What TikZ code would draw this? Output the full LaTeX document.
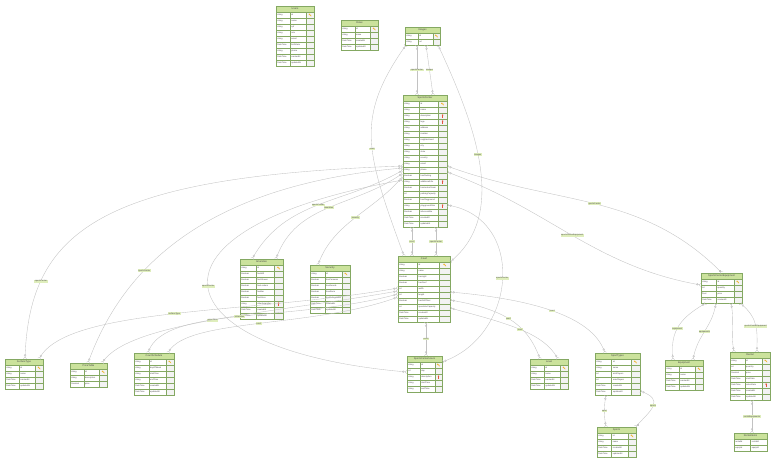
\documentclass[tikz,border=0pt]{standalone}
\usepackage{fontspec}
\setmainfont{Liberation Sans}
\usepackage{tikz}
\usetikzlibrary{arrows.meta}

\definecolor{headfill}{HTML}{CBE29C}
\definecolor{tabline}{HTML}{84A862}
\definecolor{relline}{HTML}{C2C2C2}
\definecolor{labelfill}{HTML}{DFEEBC}
\definecolor{keygold}{HTML}{F0B429}
\definecolor{keyred}{HTML}{E5533D}
\definecolor{keycell}{HTML}{F3F3F3}
\definecolor{celltext}{HTML}{4A4A4A}

\tikzset{
  entbox/.style={inner sep=0pt, outer sep=0pt, draw=none},
  enthead/.style={draw=tabline, fill=headfill, line width=0.45pt},
  entcell/.style={draw=tabline, fill=white, line width=0.35pt},
  entborder/.style={draw=tabline, line width=0.7pt},
  celltxt/.style={font=\fontsize{2.1}{2.4}\selectfont, text=celltext, inner sep=0pt, anchor=west},
  headtxt/.style={font=\fontsize{2.5}{2.9}\selectfont, text=celltext, inner sep=0pt},
  rel/.style={draw=relline, line width=0.35pt,
    {Straight Barb[reversed,length=1.8pt,width=3.2pt] Circle[open,length=2.2pt,sep=0.4pt]}-{Circle[open,length=2.2pt,sep=0.4pt] Straight Barb[reversed,length=1.8pt,width=3.2pt]}},
  rellbl/.style={fill=labelfill, font=\fontsize{2.1}{2.4}\selectfont, text=celltext, inner sep=0.5pt},
  pkmark/.pic={
    \fill[keygold] (-0.8,0.7) circle[radius=0.8pt];
    \draw[keygold, line width=0.5pt] (-0.8,0.7) -- (1.1,-1.2) (0.3,-0.4) -- (0.8,0.1);},
  fkmark/.pic={
    \fill[keyred] (0,0.9) circle[radius=0.85pt];
    \draw[keyred, line width=0.45pt] (0,0.9) -- (0,-1.5);},
}

% entity table: name, x, y (top left, px), width, rows, title, fields type/name/key
\newcommand{\entity}[7]{%
  \node[entbox, minimum width=#4pt, minimum height={(#5+1)*6pt}, anchor=north west] (#1) at (#2,-#3) {};
  \draw[enthead] (#1.north west) rectangle ([yshift=-6pt]#1.north east);
  \node[headtxt] (#1-title) at ([yshift=-3pt]#1.north) {#6};
  \foreach \ty/\nm/\ky [count=\i] in {#7} {
    \pgfmathsetmacro{\rowtop}{-#3-6*\i}
    \pgfmathsetmacro{\colA}{#2+0.37*#4}
    \pgfmathsetmacro{\colB}{#2+0.8*#4}
    \draw[entcell] (#2,\rowtop) rectangle (\colA,\rowtop-6);
    \draw[entcell] (\colA,\rowtop) rectangle (\colB,\rowtop-6);
    \draw[entcell, fill=keycell] (\colB,\rowtop) rectangle (#2+#4,\rowtop-6);
    \node[celltxt] (#1-t\i) at (#2+1.2,\rowtop-3) {\ty};
    \node[celltxt] (#1-n\i) at (\colA+1.2,\rowtop-3) {\nm};
    \ifcase\ky\relax\or
      \pic at ({#2+0.9*#4},\rowtop-3) {pkmark};\or
      \pic at ({#2+0.9*#4},\rowtop-3) {fkmark};\fi
  }
  \draw[entborder] (#1.north west) rectangle (#1.south east);
}

\begin{document}
\begin{tikzpicture}[x=1pt, y=1pt]
    \useasboundingbox[fill=white] (0,0) rectangle (784,-469);

    % Top tables
    \entity{users}{276}{6}{38}{9}{Users}{string/id/1, string/name/0, string/cpf/0, string/role/0, string/email/0, DateTime/birthDate/0, string/phone/0, DateTime/createdAt/0, DateTime/updatedAt/0}
    \entity{roles}{341}{20}{37}{4}{Roles}{string/id/1, string/name/0, DateTime/createdAt/0, DateTime/updatedAt/0}
    \entity{images}{405}{27}{35}{2}{Images}{string/id/1, string/url/0}

    % Sports center
    \entity{center}{403}{95}{44}{21}{SportsCenter}{string/id/1, string/name/0, string/description/2, string/logo/2, string/address/0, string/number/0, string/neighborhood/0, string/city/0, string/state/0, string/country/0, string/email/0, string/phone/0, Boolean/hasParking/0, string/additionalInfo/2, Boolean/hasLockerRoom/0, int/parkingCapacity/0, Boolean/hasPlayground/0, string/playgroundSize/2, Boolean/isAccessible/0, DateTime/createdAt/0, DateTime/updatedAt/0}

    % Middle row
    \entity{amenities}{240}{259}{43}{9}{Amenities}{string/id/1, Boolean/hasWifi/0, Boolean/hasShower/0, Boolean/hasLockers/0, Boolean/hasBar/0, Boolean/hasStore/0, string/otherAmenities/2, DateTime/createdAt/0, DateTime/updatedAt/0}
    \entity{security}{310}{265}{40}{7}{Security}{string/id/1, Boolean/hasCameras/0, Boolean/hasGuards/0, Boolean/hasAlarm/0, Boolean/hasExtinguisher/0, DateTime/createdAt/0, DateTime/updatedAt/0}
    \entity{court}{398}{256}{52}{10}{Court}{string/id/1, string/name/0, Boolean/hasLight/0, Boolean/hasRoof/0, int/width/0, int/length/0, Boolean/hasSoftFloor/0, int/spectatorCapacity/0, DateTime/createdAt/0, DateTime/updatedAt/0}
    \entity{centerequip}{701}{273}{41}{4}{SportsCenterEquipment}{string/id/1, int/quantity/0, float/price/0, DateTime/createdAt/0}

    % Bottom row
    \entity{surface}{5}{359}{38}{4}{SurfaceType}{string/id/1, string/name/0, DateTime/createdAt/0, DateTime/updatedAt/0}
    \entity{pricetable}{70}{363}{37}{3}{PriceTable}{string/id/1, string/description/0, Decimal/price/0}
    \entity{schedule}{134}{353}{40}{6}{CourtSchedule}{string/id/1, string/dayOfWeek/0, string/startTime/0, string/endTime/0, DateTime/createdAt/0, DateTime/updatedAt/0}
    \entity{hours}{407}{356}{35}{5}{SportsCenterHours}{string/id/1, int/day/0, string/description/2, string/startTime/0, string/endTime/0}
    \entity{level}{530}{359}{38}{4}{Level}{string/id/1, string/name/0, DateTime/createdAt/0, DateTime/updatedAt/0}
    \entity{sporttype}{595}{353}{45}{6}{SportTypes}{string/id/1, string/name/0, int/minPlayers/0, int/maxPlayers/0, DateTime/createdAt/0, DateTime/updatedAt/0}
    \entity{equipment}{665}{360}{38}{4}{Equipment}{string/id/1, string/name/0, DateTime/createdAt/0, DateTime/updatedAt/0}
    \entity{rental}{730}{352}{40}{7}{Rental}{string/id/1, int/quantity/0, Decimal/price/0, DateTime/startDate/0, DateTime/returnDate/2, DateTime/createdAt/0, DateTime/updatedAt/0}
    \entity{sports}{597}{427}{39}{4}{Sports}{string/id/1, string/name/0, DateTime/createdAt/0, DateTime/updatedAt/0}

    % Link table
    \node[entbox, minimum width=33pt, minimum height=18pt, anchor=north west] (rentitems) at (734,-433) {};
    \draw[enthead] (rentitems.north west) rectangle ([yshift=-6pt]rentitems.north east);
    \node[headtxt] (rentitems-title) at ([yshift=-3pt]rentitems.north) {RentalItems};
    \foreach \ca/\cb [count=\i] in {rentalId/rentalId, equipId/equipId} {
      \draw[entcell] (734,-433-6*\i) rectangle (750.5,-439-6*\i);
      \draw[entcell] (750.5,-433-6*\i) rectangle (767,-439-6*\i);
      \node[celltxt] (rentitems-a\i) at (735.2,-436-6*\i) {\ca};
      \node[celltxt] (rentitems-b\i) at (751.7,-436-6*\i) {\cb};
    }
    \draw[entborder] (rentitems.north west) rectangle (rentitems.south east);

    % Images relations
    \draw[rel] ([xshift=12pt]images.south west) -- ([xshift=14pt]center.north west)
      node[rellbl, pos=0.5] (l-img-c1) {sportsCenter};
    \draw[rel] ([xshift=21pt]images.south west) -- ([xshift=30pt]center.north west)
      node[rellbl, pos=0.5] (l-img-c2) {images};
    \draw[rel] ([xshift=1pt]images.south west) .. controls +(235:90) and +(110:110) .. ([xshift=6pt]court.north west)
      node[rellbl, pos=0.55] (l-img-court) {court};
    \draw[rel] ([xshift=-2pt]images.south east) .. controls +(-65:90) and +(40:75) .. ([yshift=-6pt]court.north east)
      node[rellbl, pos=0.45] (l-court-img) {images};

    % Sports center relations
    \draw[rel] ([yshift=-75pt]center.north west) .. controls +(210:69) and +(60:69) .. ([xshift=12pt]amenities.north west)
      node[rellbl, pos=0.5] (l-c-am1) {sportsCenter};
    \draw[rel] ([yshift=-78pt]center.north west) .. controls +(215:60) and +(70:60) .. ([xshift=36pt]amenities.north west)
      node[rellbl, pos=0.5] (l-c-am2) {amenities};
    \draw[rel] ([yshift=-81pt]center.north west) .. controls +(230:45) and +(70:45) .. ([xshift=8pt]security.north west)
      node[rellbl, pos=0.5] (l-c-sec) {security};
    \draw[rel] ([yshift=-71pt]center.north west) .. controls +(182:300) and +(88:130) .. ([xshift=20pt]surface.north west)
      node[rellbl, pos=0.77] (l-c-surf) {sportsCenter};
    \draw[rel] ([yshift=-73pt]center.north west) .. controls +(185:200) and +(70:100) .. ([xshift=18pt]pricetable.north west)
      node[rellbl, pos=0.65] (l-c-price) {sportsCenter};
    \draw[rel] ([yshift=-85pt]center.north west) .. controls +(190:280) and +(175:250) .. ([yshift=-16pt]hours.north west)
      node[rellbl, pos=0.5] (l-c-hours) {sportsCenter};
    \draw[rel] ([xshift=9pt]center.south west) -- ([xshift=14pt]court.north west)
      node[rellbl, pos=0.5] (l-c-court1) {court};
    \draw[rel] ([xshift=33pt]center.south west) -- ([xshift=38pt]court.north west)
      node[rellbl, pos=0.5] (l-c-court2) {sportsCenter};
    \draw[rel] ([yshift=-71pt]center.north east) .. controls +(-20:115) and +(135:115) .. ([xshift=21pt]centerequip.north west)
      node[rellbl, pos=0.5] (l-c-eq1) {sportsCenter};
    \draw[rel] ([yshift=-77pt]center.north east) .. controls +(-20:108) and +(170:108) .. ([yshift=-12pt]centerequip.north west)
      node[rellbl, pos=0.5] (l-c-eq2) {sportsCenterEquipment};
    \draw[rel] ([yshift=-110pt]center.north east) .. controls +(-10:80) and +(20:80) .. ([yshift=-6pt]hours.north east)
      node[rellbl, pos=0.5] (l-c-hours2) {sportsCenter};

    % Court relations
    \draw[rel] ([yshift=-32pt]court.north west) .. controls +(190:150) and +(60:60) .. ([xshift=-4pt]surface.north east)
      node[rellbl, pos=0.5] (l-court-surf) {surfaceType};
    \draw[rel] ([yshift=-35pt]court.north west) .. controls +(190:130) and +(55:50) .. ([xshift=-5pt]pricetable.north east)
      node[rellbl, pos=0.5] (l-court-price) {priceTable};
    \draw[rel] ([yshift=-38pt]court.north west) .. controls +(195:110) and +(70:50) .. ([xshift=14pt]schedule.north west)
      node[rellbl, pos=0.5] (l-court-sch1) {schedules};
    \draw[rel] ([yshift=-41pt]court.north west) .. controls +(200:90) and +(60:40) .. ([xshift=34pt]schedule.north west)
      node[rellbl, pos=0.5] (l-court-sch2) {court};
    \draw[rel] ([xshift=28pt]court.south west) -- ([xshift=19pt]hours.north west)
      node[rellbl, pos=0.5] (l-court-hours) {court};
    \draw[rel] ([yshift=-44pt]court.north east) .. controls +(-10:50) and +(110:40) .. ([xshift=10pt]level.north west)
      node[rellbl, pos=0.5] (l-court-lv1) {court};
    \draw[rel] ([yshift=-52pt]court.north east) .. controls +(-15:60) and +(120:30) .. ([xshift=28pt]level.north west)
      node[rellbl, pos=0.5] (l-court-lv2) {level};
    \draw[rel] ([yshift=-36pt]court.north east) .. controls +(-5:80) and +(110:40) .. ([xshift=10pt]sporttype.north west)
      node[rellbl, pos=0.5] (l-court-st) {court};

    % Sport types
    \draw[rel] ([xshift=11pt]sporttype.south west) .. controls +(260:12) and +(100:12) .. ([xshift=9pt]sports.north west)
      node[rellbl, pos=0.5] (l-st-sp1) {sport};
    \draw[rel] ([yshift=4pt]sporttype.south east) .. controls +(-20:25) and +(45:25) .. ([xshift=-1pt]sports.north east)
      node[rellbl, pos=0.5] (l-st-sp2) {sports};

    % Equipment and rentals
    \draw[rel] ([xshift=5pt]centerequip.south west) .. controls +(210:35) and +(95:25) .. ([xshift=8pt]equipment.north west)
      node[rellbl, pos=0.5] (l-eq-e1) {equipment};
    \draw[rel] ([xshift=15pt]centerequip.south west) .. controls +(260:25) and +(80:25) .. ([xshift=28pt]equipment.north west)
      node[rellbl, pos=0.5] (l-eq-e2) {equipments};
    \draw[rel] ([xshift=30pt]centerequip.south west) .. controls +(280:20) and +(100:20) .. ([xshift=4pt]rental.north west);
    \draw[rel] ([xshift=-2pt]centerequip.south east) .. controls +(-40:25) and +(90:20) .. ([xshift=27pt]rental.north west)
      node[rellbl, pos=0.5] (l-eq-r2) {sportsCenterEquipment};
    \draw[rel] ([xshift=22pt]rental.south west) -- ([xshift=18pt]rentitems.north west)
      node[rellbl, pos=0.5] (l-r-items) {rentalEquipments};
\end{tikzpicture}
\end{document}
